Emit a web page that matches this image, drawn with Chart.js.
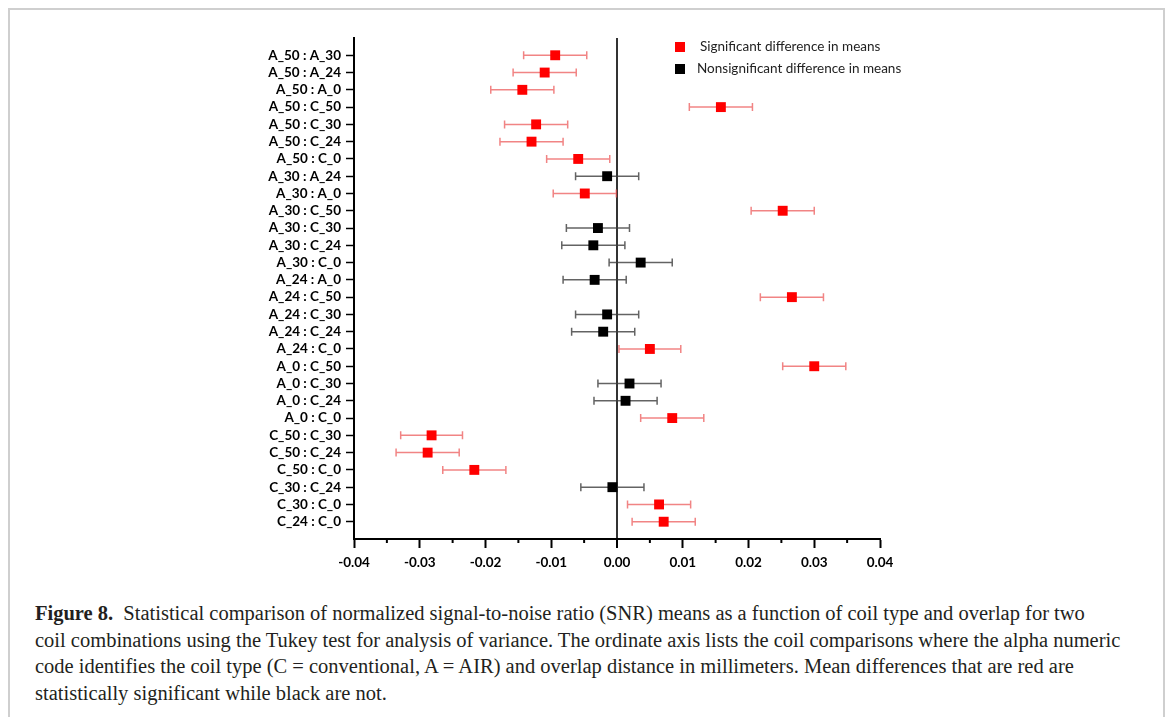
<!DOCTYPE html>
<html>
<head>
<meta charset="utf-8">
<script src="https://cdn.jsdelivr.net/npm/chart.js@4.4.1/dist/chart.umd.min.js"></script>
<style>
  body { margin: 0; background: #fff; }
  #frame {
    position: absolute; left: 8px; top: 8px; width: 1153px; height: 740px;
    border: 2px solid #cfcfcf; border-bottom: none;
  }
  #wrap { position: absolute; left: 0; top: 0; width: 1167px; height: 590px; }
  #caption {
    position: absolute; left: 35px; top: 600px;
    font-family: "Liberation Serif", "DejaVu Serif", serif;
    font-size: 20.5px; line-height: 26.5px; color: #231f20; white-space: nowrap;
  }
  #caption b { margin-right: 5px; }
</style>
</head>
<body>
<div id="frame"></div>
<div id="wrap"><canvas id="tukeyChart" width="1167" height="590"></canvas></div>
<div id="caption">
  <b>Figure 8.</b> Statistical comparison of normalized signal-to-noise ratio (SNR) means as a function of coil type and overlap for two<br>
  coil combinations using the Tukey test for analysis of variance. The ordinate axis lists the coil comparisons where the alpha numeric<br>
  code identifies the coil type (C = conventional, A = AIR) and overlap distance in millimeters. Mean differences that are red are<br>
  statistically significant while black are not.
</div>

<script>
const comparisons = [
  'A_50 : A_30', 'A_50 : A_24', 'A_50 : A_0', 'A_50 : C_50', 'A_50 : C_30', 'A_50 : C_24', 'A_50 : C_0',
  'A_30 : A_24', 'A_30 : A_0', 'A_30 : C_50', 'A_30 : C_30', 'A_30 : C_24', 'A_30 : C_0',
  'A_24 : A_0', 'A_24 : C_50', 'A_24 : C_30', 'A_24 : C_24', 'A_24 : C_0',
  'A_0 : C_50', 'A_0 : C_30', 'A_0 : C_24', 'A_0 : C_0',
  'C_50 : C_30', 'C_50 : C_24', 'C_50 : C_0', 'C_30 : C_24', 'C_30 : C_0', 'C_24 : C_0'
];

// mean difference of each comparison
const meanDiff = [
  -0.0094, -0.0110, -0.0144, 0.0158, -0.0123, -0.0130, -0.0059,
  -0.0015, -0.0049, 0.0252, -0.0029, -0.0036, 0.0036,
  -0.0034, 0.0266, -0.0015, -0.0021, 0.0050,
  0.0300, 0.0019, 0.0013, 0.0084,
  -0.0282, -0.0288, -0.0217, -0.0007, 0.0064, 0.0071
];

// half width of the confidence interval
const ciHalf = [
  0.0048, 0.0048, 0.0048, 0.0048, 0.0048, 0.0048, 0.0048,
  0.0048, 0.0048, 0.0048, 0.0048, 0.0048, 0.0048,
  0.0048, 0.0048, 0.0048, 0.0048, 0.0047,
  0.0048, 0.0048, 0.0048, 0.0048,
  0.0047, 0.0048, 0.0048, 0.0048, 0.0048, 0.0048
];

const significant = [
  true, true, true, true, true, true, true,
  false, true, true, false, false, false,
  false, true, false, false, true,
  true, false, false, true,
  true, true, true, false, true, true
];

const xTicks = [-0.04, -0.03, -0.02, -0.01, 0, 0.01, 0.02, 0.03, 0.04];

function pointsFor(flag) {
  const pts = [];
  meanDiff.forEach((m, i) => {
    if (significant[i] === flag) pts.push({ x: m, y: i, half: ciHalf[i] });
  });
  return pts;
}

// horizontal error bars with caps, plus the short minor ticks on the x axis
const errorBars = {
  id: 'errorBars',
  beforeDatasetsDraw(chart) {
    const ctx = chart.ctx;
    const xs = chart.scales.x, ys = chart.scales.y;
    chart.data.datasets.forEach(ds => {
      ctx.save();
      ctx.strokeStyle = ds.barColor;
      ctx.lineWidth = 1.5;
      ds.data.forEach(p => {
        const y = ys.getPixelForValue(p.y);
        const x1 = xs.getPixelForValue(p.x - p.half);
        const x2 = xs.getPixelForValue(p.x + p.half);
        ctx.beginPath();
        ctx.moveTo(x1, y); ctx.lineTo(x2, y);
        ctx.moveTo(x1, y - 4); ctx.lineTo(x1, y + 4);
        ctx.moveTo(x2, y - 4); ctx.lineTo(x2, y + 4);
        ctx.stroke();
      });
      ctx.restore();
    });
  },
  afterDraw(chart) {
    const ctx = chart.ctx;
    const xs = chart.scales.x;
    const bottom = chart.chartArea.bottom;
    ctx.save();
    ctx.strokeStyle = '#000';
    ctx.lineWidth = 2;
    for (let i = 0; i < xTicks.length - 1; i++) {
      const px = xs.getPixelForValue((xTicks[i] + xTicks[i + 1]) / 2);
      ctx.beginPath();
      ctx.moveTo(px, bottom); ctx.lineTo(px, bottom + 4);
      ctx.stroke();
    }
    ctx.restore();
  }
};

// legend drawn inside the plot area, top right
const insideLegend = {
  id: 'insideLegend',
  afterDraw(chart) {
    const ctx = chart.ctx;
    const left = chart.chartArea.left;
    const top = chart.chartArea.top;
    ctx.save();
    ctx.font = '13.5px Lato';
    ctx.textBaseline = 'middle';
    chart.data.datasets.forEach((ds, i) => {
      const y = top + 9 + i * 22;
      ctx.fillStyle = ds.backgroundColor;
      ctx.fillRect(left + 321, y - 5, 10, 10);
      ctx.fillStyle = '#222';
      ctx.fillText(ds.label, left + (i === 0 ? 346 : 343), y);
    });
    ctx.restore();
  }
};

const chart = new Chart(document.getElementById('tukeyChart'), {
  type: 'scatter',
  data: {
    datasets: [
      {
        label: 'Significant difference in means',
        data: pointsFor(true),
        backgroundColor: '#ff0000',
        borderColor: '#ff0000',
        barColor: 'rgba(235, 80, 80, 0.7)',
        pointStyle: 'rect',
        pointRadius: 7,
        borderWidth: 0
      },
      {
        label: 'Nonsignificant difference in means',
        data: pointsFor(false),
        backgroundColor: '#000000',
        borderColor: '#000000',
        barColor: 'rgba(60, 60, 60, 0.8)',
        pointStyle: 'rect',
        pointRadius: 7,
        borderWidth: 0
      }
    ]
  },
  options: {
    responsive: false,
    animation: false,
    devicePixelRatio: 1,
    layout: { padding: { top: 38, right: 287, left: 0, bottom: 0 } },
    plugins: {
      legend: { display: false },
      tooltip: { enabled: false }
    },
    scales: {
      x: {
        type: 'linear',
        min: -0.04,
        max: 0.04,
        afterBuildTicks: scale => { scale.ticks = xTicks.map(v => ({ value: v })); },
        afterFit: scale => { scale.height = 51; },
        ticks: {
          autoSkip: false,
          maxRotation: 0,
          padding: 7,
          color: '#000',
          font: { family: 'Lato', size: 13.5, weight: 'bold' },
          callback: v => v.toFixed(2)
        },
        grid: {
          drawOnChartArea: true,
          color: c => (c.tick && c.tick.value === 0 ? '#333' : 'rgba(0,0,0,0)'),
          lineWidth: c => (c.tick && c.tick.value === 0 ? 2 : 1),
          tickColor: '#000',
          tickWidth: 2,
          tickLength: 9
        },
        border: { display: true, color: '#000', width: 2 }
      },
      y: {
        type: 'linear',
        reverse: true,
        min: -1,
        max: 28,
        afterBuildTicks: scale => { scale.ticks = comparisons.map((_, i) => ({ value: i })); },
        afterFit: scale => { scale.width = 354; },
        ticks: {
          autoSkip: false,
          padding: 5,
          color: '#000',
          font: { family: 'Lato', size: 13.5, weight: 'bold' },
          callback: v => comparisons[v]
        },
        grid: {
          drawOnChartArea: false,
          tickColor: '#000',
          tickWidth: 1.5,
          tickLength: 8
        },
        border: { display: true, color: '#000', width: 2 }
      }
    }
  },
  plugins: [errorBars, insideLegend]
});
</script>
</body>
</html>
